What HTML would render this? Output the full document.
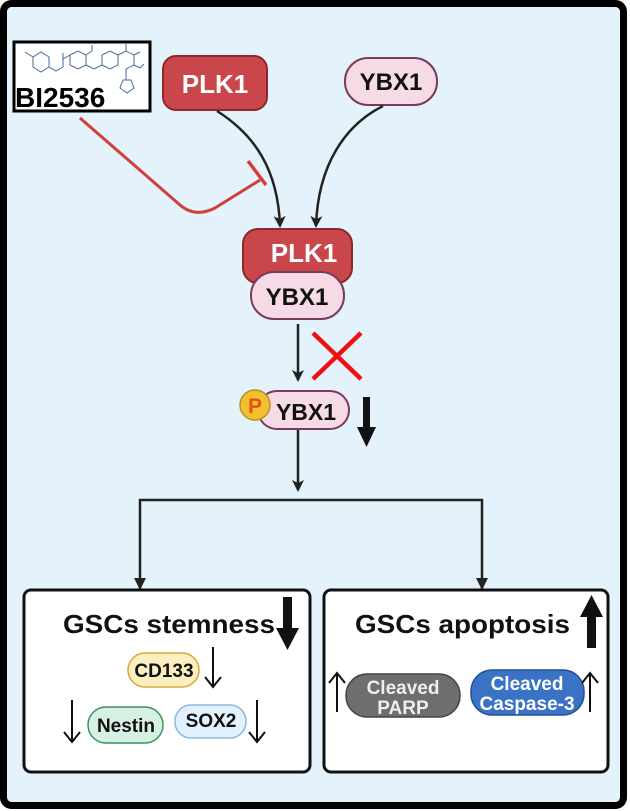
<!DOCTYPE html>
<html><head><style>
html,body{margin:0;padding:0;background:#fff;}
svg{display:block;}
text{font-family:"Liberation Sans",Arial,sans-serif;font-weight:bold;}
</style></head><body>
<svg width="630" height="811" viewBox="0 0 630 811" xmlns="http://www.w3.org/2000/svg">
<defs>
<marker id="ah2" markerWidth="12" markerHeight="12" refX="10" refY="6" orient="auto" markerUnits="userSpaceOnUse" viewBox="0 0 12 12"><path d="M0,0 L12,6 L0,12 L3,6 Z" fill="#222"/></marker>
</defs>
<rect x="3.5" y="3.5" width="620" height="802" rx="8" fill="#e3f2fb" stroke="#000" stroke-width="7"/>
<!-- BI2536 -->
<rect x="14" y="42" width="136" height="69" fill="#fff" stroke="#000" stroke-width="3"/>
<g stroke="#4a6a9a" stroke-width="1" fill="none">
<path d="M25,52 l8,5 l0,10 l8,5 l8,-5 l0,-10 l-8,-5 l-8,5"/><path d="M49,67 l7,4 l7,-4 l0,-8 l7,-4"/><path d="M63,59 l0,-6"/>
<path d="M70,55 l8,-4 l8,4 l0,10 l-8,4 l-8,-4 z"/><path d="M86,55 l6,-4 l0,-6"/><path d="M86,65 l8,4 l8,-4 l0,-10 l8,-4 l8,4 l0,10 l-8,4 l-8,-4"/>
<path d="M118,55 l8,-4 l8,4 l0,10 l-8,4"/><path d="M126,51 l0,-7"/><path d="M134,55 l6,-3"/><path d="M134,65 l6,3 l4,-4"/>
<path d="M123,80 l8,0 l3,8 l-7,5 l-7,-5 z"/><path d="M126,69 l0,11"/>
</g>
<text x="15" y="107" font-size="28" fill="#000">BI2536</text>
<!-- top nodes -->
<rect x="163" y="56" width="104" height="54" rx="13" fill="#c9464a" stroke="#8a2a2e" stroke-width="2"/>
<text x="215" y="93" font-size="26" fill="#fff" text-anchor="middle">PLK1</text>
<rect x="345" y="58" width="92" height="47" rx="23" fill="#f6dbe7" stroke="#7a3a5c" stroke-width="2"/>
<text x="391" y="90" font-size="24" fill="#111" text-anchor="middle">YBX1</text>
<!-- arrows to complex -->
<path d="M217,111 C255,135 278,170 280,226" stroke="#222" stroke-width="2.5" fill="none" marker-end="url(#ah2)"/>
<path d="M383,106 C345,125 318,165 316,226" stroke="#222" stroke-width="2.5" fill="none" marker-end="url(#ah2)"/>
<!-- inhibitor -->
<path d="M80,118 L180,205 Q195,218 215,208 L260,180" stroke="#d0403a" stroke-width="3" fill="none"/>
<path d="M248,161 L266,185" stroke="#d0403a" stroke-width="3.5"/>
<!-- complex -->
<rect x="243" y="229" width="109" height="54" rx="15" fill="#c9464a" stroke="#8a2a2e" stroke-width="2"/>
<text x="304" y="262" font-size="26" fill="#fff" text-anchor="middle">PLK1</text>
<rect x="251" y="272" width="93" height="47" rx="23" fill="#f6dbe7" stroke="#7a3a5c" stroke-width="2"/>
<text x="297" y="305" font-size="24" fill="#111" text-anchor="middle">YBX1</text>
<line x1="298" y1="324" x2="298" y2="380" stroke="#222" stroke-width="2.5" marker-end="url(#ah2)"/>
<path d="M313,333 L361,379 M361,333 L313,379" stroke="#f01010" stroke-width="4.5"/>
<!-- P-YBX1 -->
<rect x="258" y="391" width="91" height="38" rx="19" fill="#f6dbe7" stroke="#7a3a5c" stroke-width="2"/>
<text x="306" y="420" font-size="23" fill="#111" text-anchor="middle">YBX1</text>
<circle cx="255" cy="405" r="15" fill="#f2c12e" stroke="#b89020" stroke-width="1.5"/>
<text x="255" y="413" font-size="21" fill="#e8501a" text-anchor="middle">P</text>
<path d="M363,397 h7 v30 h6 l-9.5,20 l-9.5,-20 h6 z" fill="#111"/>
<!-- branch -->
<line x1="298" y1="430" x2="298" y2="490" stroke="#222" stroke-width="2.5" marker-end="url(#ah2)"/>
<path d="M140,590 L140,500 L482,500 L482,590" stroke="#222" stroke-width="2.5" fill="none"/>
<path d="M134,578 L140,590 L146,578 Z M476,578 L482,590 L488,578 Z" fill="#222"/>
<!-- left box -->
<rect x="24" y="590" width="286" height="182" rx="7" fill="#fff" stroke="#111" stroke-width="3"/>
<text x="63" y="633" font-size="26" fill="#111" textLength="212" lengthAdjust="spacingAndGlyphs">GSCs stemness</text>
<path d="M283,597 h9 v31 h7 l-11.5,22 l-11.5,-22 h7 z" fill="#111"/>
<rect x="128" y="653" width="71" height="34" rx="17" fill="#fcefbf" stroke="#d8a838" stroke-width="1.5"/>
<text x="164" y="677" font-size="19" fill="#111" text-anchor="middle">CD133</text>
<path d="M213,647 v40 M205,677 l8,10 l8,-10" stroke="#111" stroke-width="2" fill="none"/>
<rect x="88" y="707" width="75" height="36" rx="18" fill="#d6f0e4" stroke="#3c9060" stroke-width="1.5"/>
<text x="126" y="732" font-size="19" fill="#111" text-anchor="middle">Nestin</text>
<rect x="175" y="705" width="71" height="33" rx="16" fill="#e3f1fd" stroke="#8ab8e0" stroke-width="1.5"/>
<text x="211" y="727" font-size="19" fill="#111" text-anchor="middle">SOX2</text>
<path d="M72,700 v42 M64,732 l8,10 l8,-10" stroke="#111" stroke-width="2" fill="none"/>
<path d="M257,700 v42 M249,732 l8,10 l8,-10" stroke="#111" stroke-width="2" fill="none"/>
<!-- right box -->
<rect x="324" y="590" width="284" height="182" rx="7" fill="#fff" stroke="#111" stroke-width="3"/>
<text x="355" y="633" font-size="26" fill="#111" textLength="215" lengthAdjust="spacingAndGlyphs">GSCs apoptosis</text>
<path d="M587,648 h9 v-31 h7 l-11.5,-22 l-11.5,22 h7 z" fill="#111"/>
<rect x="346" y="674" width="114" height="43" rx="21" fill="#6e6e6e" stroke="#444" stroke-width="1.5"/>
<text x="403" y="694" font-size="19" fill="#eee" text-anchor="middle">Cleaved</text>
<text x="403" y="714" font-size="19" fill="#eee" text-anchor="middle">PARP</text>
<rect x="471" y="670" width="113" height="45" rx="21" fill="#3a72c4" stroke="#22509a" stroke-width="1.5"/>
<text x="527" y="690" font-size="19" fill="#fff" text-anchor="middle">Cleaved</text>
<text x="527" y="710" font-size="19" fill="#fff" text-anchor="middle">Caspase-3</text>
<path d="M337,712 v-39 M329,683 l8,-10 l8,10" stroke="#111" stroke-width="2" fill="none"/>
<path d="M590,712 v-39 M582,683 l8,-10 l8,10" stroke="#111" stroke-width="2" fill="none"/>
</svg>
</body></html>
